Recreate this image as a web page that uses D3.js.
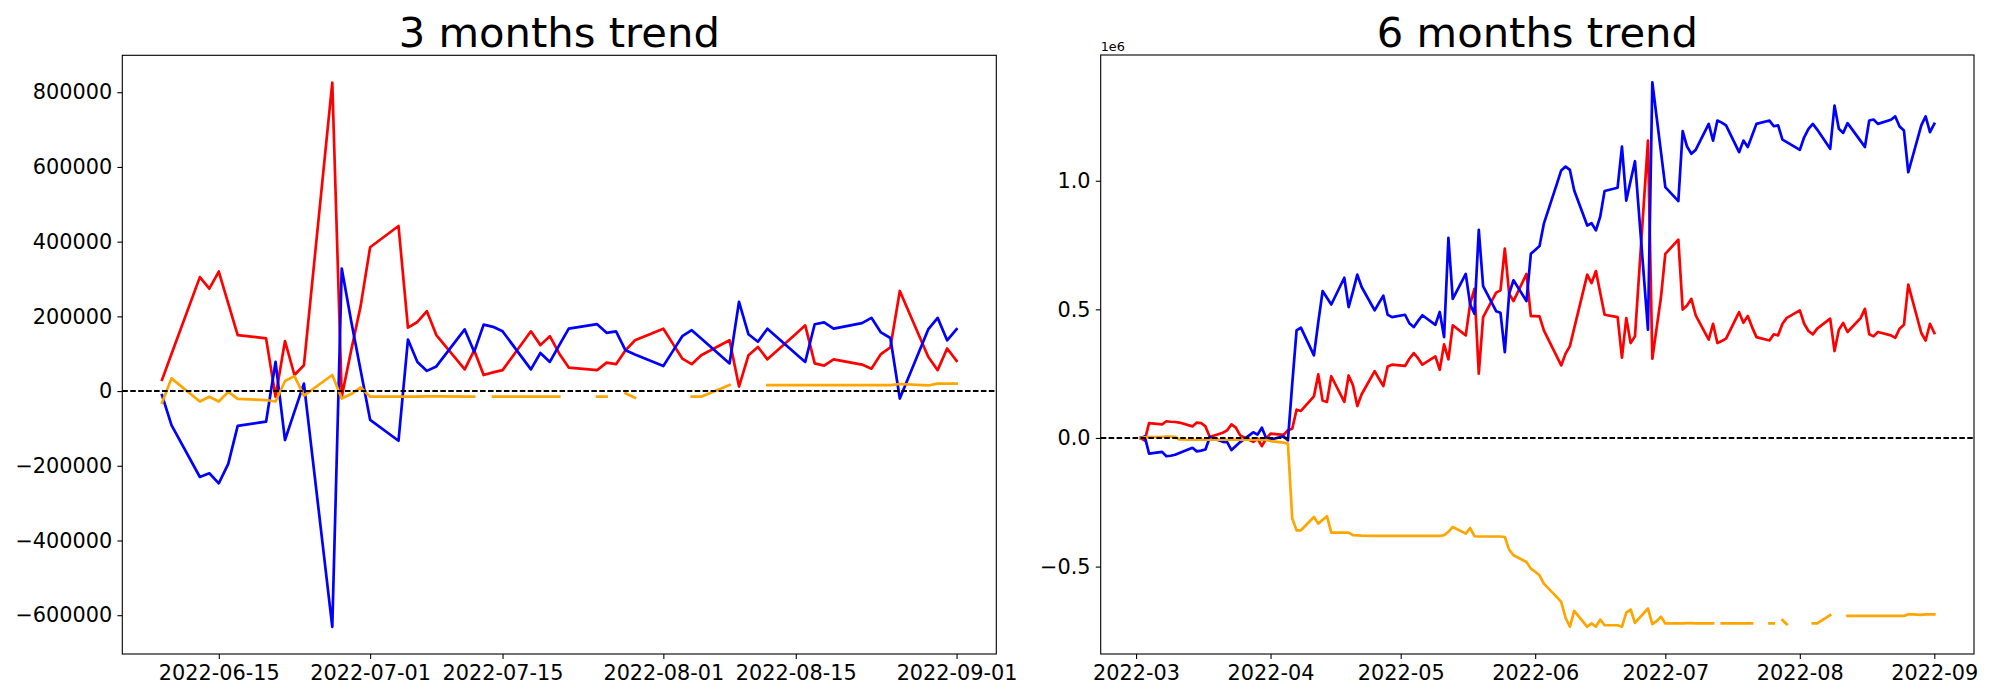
<!DOCTYPE html>
<html><head><meta charset="utf-8">
<script src="https://cdn.jsdelivr.net/npm/d3@7"></script>
<style>body{margin:0;background:#fff}svg{display:block}</style>
</head><body><svg id="c" width="2000" height="700"></svg>
<script>
// ---------- 3 months panel ----------
const dates3m = ["06-09","06-10","06-13","06-14","06-15","06-16","06-17","06-20","06-21","06-22","06-23","06-24","06-27","06-28","06-29","06-30",
"07-01","07-04","07-05","07-06","07-07","07-08","07-11","07-12","07-13","07-14","07-15","07-18","07-19","07-20","07-21","07-22","07-25","07-26","07-27","07-28","07-29",
"08-01","08-02","08-03","08-04","08-05","08-08","08-09","08-10","08-11","08-12","08-15","08-16","08-17","08-18","08-19","08-22","08-23","08-24","08-25","08-26","08-29","08-30","08-31",
"09-01"];
const red3m = [30000,99000,305000,274000,320000,235000,150000,141000,-15000,134000,43000,69000,826000,-15000,109000,228000,
385000,442000,170000,185000,214000,150000,58000,109000,43000,50000,56000,160000,123000,147000,100000,63000,56000,76000,72000,109000,136000,
167000,127000,87000,72000,96000,136000,12000,96000,118000,85000,153000,176000,74000,68000,85000,71000,60000,99000,117000,268000,92000,56000,114000,
81000];
const blue3m = [-11000,-91000,-230000,-220000,-247000,-195000,-93000,-82000,78000,-131000,-55000,20000,-631000,328000,187000,55000,
-77000,-133000,138000,78000,54000,66000,165000,105000,178000,172000,160000,58000,102000,78000,123000,167000,179000,156000,160000,109000,98000,
67000,107000,147000,163000,141000,74000,239000,152000,132000,167000,100000,78000,179000,184000,167000,182000,196000,157000,142000,-20000,165000,196000,136000,
166000];
const orange3m = [-31000,34000,-28000,-15000,-28000,-2000,-21000,-24000,-28000,27000,40000,-12000,43000,-20000,-8000,10000,
-15000,-15000,-15000,-15000,-14000,-14000,-15000,-15000,null,-15000,-15000,-15000,-15000,-15000,-15000,null,-15000,-15000,null,-6000,-18000,
null,null,null,-15000,-15000,16000,null,null,null,16000,16000,16000,16000,16000,16000,16000,16000,16000,16000,19000,15000,20000,20000,
20000];
const xTicks3m = ["2022-06-15","2022-07-01","2022-07-15","2022-08-01","2022-08-15","2022-09-01"];
const yTicks3m = [-600000,-400000,-200000,0,200000,400000,600000,800000];

// ---------- 6 months panel (values in units of 1e6) ----------
const dates6m = [
"03-02","03-03","03-04","03-07","03-08","03-09","03-10","03-11","03-14","03-15","03-16","03-17","03-18","03-21","03-22","03-23","03-24","03-25","03-28","03-29","03-30","03-31",
"04-01","04-04","04-05","04-06","04-07","04-08","04-11","04-12","04-13","04-14","04-15","04-18","04-19","04-20","04-21","04-22","04-25","04-26","04-27","04-28","04-29",
"05-02","05-03","05-04","05-05","05-06","05-09","05-10","05-11","05-12","05-13","05-16","05-17","05-18","05-19","05-20","05-23","05-24","05-25","05-26","05-27","05-30","05-31",
"06-01","06-02","06-03","06-06","06-07","06-08","06-09","06-10","06-13","06-14","06-15","06-16","06-17","06-20","06-21","06-22","06-23","06-24","06-27","06-28","06-29","06-30",
"07-01","07-04","07-05","07-06","07-07","07-08","07-11","07-12","07-13","07-14","07-15","07-18","07-19","07-20","07-21","07-22","07-25","07-26","07-27","07-28","07-29",
"08-01","08-02","08-03","08-04","08-05","08-08","08-09","08-10","08-11","08-12","08-15","08-16","08-17","08-18","08-19","08-22","08-23","08-24","08-25","08-26","08-29","08-30","08-31",
"09-01"];
const blue6m = [
0,0.006,-0.061,-0.054,-0.071,-0.069,-0.065,-0.058,-0.038,-0.052,-0.049,-0.045,0.004,-0.015,-0.016,-0.047,-0.031,-0.016,0.022,0.013,0.040,-0.001,
-0.006,0.006,-0.009,0.21,0.418,0.429,0.321,0.45,0.571,0.545,0.519,0.623,0.509,0.57,0.635,0.587,0.496,0.525,0.553,0.479,0.470,
0.479,0.446,0.431,0.455,0.477,0.440,0.490,0.392,0.778,0.541,0.638,0.52,0.483,0.809,0.590,0.493,0.487,0.334,0.561,0.613,0.532,0.716,
0.731,0.746,0.833,0.988,1.040,1.055,1.042,0.962,0.826,0.835,0.807,0.861,0.960,0.973,1.133,0.923,1.0,1.076,0.421,1.383,1.247,1.111,
0.975,0.921,1.193,1.133,1.105,1.120,1.221,1.156,1.234,1.226,1.215,1.111,1.156,1.131,1.176,1.221,1.234,1.212,1.215,1.160,1.150,
1.120,1.169,1.202,1.221,1.199,1.124,1.292,1.202,1.186,1.224,1.155,1.131,1.234,1.238,1.221,1.237,1.250,1.211,1.195,1.033,1.215,1.250,1.189,
1.221];
const red6m = [
0,-0.010,0.058,0.053,0.065,0.063,0.062,0.060,0.045,0.060,0.058,0.045,0.004,0.020,0.030,0.053,0.040,0.010,-0.015,-0.002,-0.032,-0.002,
0.017,0.012,0.030,0.036,0.110,0.105,0.162,0.247,0.146,0.140,0.240,0.140,0.243,0.205,0.124,0.170,0.260,0.230,0.202,0.278,0.285,
0.280,0.308,0.330,0.310,0.285,0.317,0.265,0.364,0.306,0.438,0.399,0.52,0.580,0.250,0.470,0.565,0.574,0.736,0.561,0.532,0.638,0.474,
0.474,0.473,0.418,0.316,0.282,0.328,0.357,0.427,0.635,0.602,0.649,0.564,0.479,0.470,0.312,0.466,0.369,0.395,1.156,0.308,0.428,0.548,
0.716,0.771,0.499,0.515,0.541,0.477,0.382,0.444,0.369,0.377,0.386,0.489,0.448,0.474,0.431,0.392,0.379,0.403,0.399,0.444,0.467,
0.496,0.444,0.416,0.403,0.425,0.464,0.338,0.421,0.447,0.412,0.466,0.502,0.403,0.395,0.412,0.399,0.389,0.425,0.440,0.596,0.408,0.379,0.444,
0.408];
const orange6m = [
0,0.002,0.003,0.004,0.005,0.005,0.004,-0.006,-0.007,-0.007,-0.007,-0.007,-0.007,-0.007,-0.007,-0.007,-0.007,-0.007,-0.007,-0.007,-0.007,-0.008,
-0.012,-0.018,-0.022,-0.313,-0.359,-0.359,-0.307,-0.333,-0.318,-0.304,-0.368,-0.368,-0.368,-0.378,-0.379,-0.380,-0.381,-0.381,-0.381,-0.381,-0.381,
-0.381,-0.381,-0.381,-0.381,-0.381,-0.381,-0.381,-0.378,-0.365,-0.346,-0.372,-0.350,-0.382,-0.383,-0.383,-0.383,-0.383,-0.385,-0.434,-0.456,-0.482,-0.508,
-0.520,-0.534,-0.566,-0.619,-0.637,-0.699,-0.734,-0.672,-0.734,-0.721,-0.734,-0.706,-0.728,-0.728,-0.734,-0.679,-0.667,-0.719,-0.663,-0.724,-0.712,-0.695,
-0.721,-0.721,-0.721,-0.720,-0.720,-0.721,-0.721,-0.721,null,-0.721,-0.721,-0.721,-0.721,-0.721,-0.721,null,-0.721,-0.721,null,-0.708,-0.724,
null,null,null,-0.721,-0.721,-0.689,null,null,null,-0.692,-0.692,-0.692,-0.692,-0.692,-0.692,-0.692,-0.692,-0.692,-0.692,-0.685,-0.688,-0.686,-0.686,
-0.686];
const xTicks6m = ["2022-03","2022-04","2022-05","2022-06","2022-07","2022-08","2022-09"];
const yTicks6m = [-0.5,0.0,0.5,1.0];

const titles = ["3 months trend","6 months trend"];
const colors = {red:"#ff0000", blue:"#0000ff", orange:"#ffa500"};

const svg = d3.select("#c");
const FONT = "DejaVu Sans, Liberation Sans, sans-serif";
const parseDay = s => new Date("2022-" + s + "T00:00:00Z");

function panel(o) {
  const g = svg.append("g");
  const xs = o.dates.map(parseDay);
  const [xmin, xmax] = d3.extent(xs);
  const xr = xmax - xmin;
  const x = d3.scaleUtc().domain([new Date(+xmin - 0.05*xr), new Date(+xmax + 0.05*xr)]).range([o.left, o.right]);
  const all = o.series.flatMap(s => s.values).filter(v => v != null);
  const [ymin, ymax] = d3.extent(all);
  const yr = ymax - ymin;
  const y = d3.scaleLinear().domain([ymin - 0.05*yr, ymax + 0.05*yr]).range([o.bottom, o.top]);

  o.series.forEach(s => {
    const line = d3.line()
      .defined(i => s.values[i] != null)
      .x(i => x(xs[i]))
      .y(i => y(s.values[i]));
    g.append("path")
      .attr("d", line(d3.range(xs.length)))
      .attr("fill", "none")
      .attr("stroke", s.color)
      .attr("stroke-width", 2.7)
      .attr("stroke-linejoin", "round")
      .attr("stroke-linecap", "square");
  });

  g.append("line")
    .attr("x1", o.left).attr("x2", o.right)
    .attr("y1", y(0)).attr("y2", y(0))
    .attr("stroke", "#000").attr("stroke-width", 2.08)
    .attr("stroke-dasharray", "5.55,2.4");

  const xa = g.append("g").attr("transform", `translate(0,${o.bottom})`)
    .call(d3.axisBottom(x).tickValues(o.xTicks.map(o.xParse)).tickFormat(o.xFmt).tickSize(4.9).tickPadding(6.3));
  const ya = g.append("g").attr("transform", `translate(${o.left},0)`)
    .call(d3.axisLeft(y).tickValues(o.yTicks).tickFormat(o.yFmt).tickSize(4.9).tickPadding(5.2));
  [xa, ya].forEach(a => {
    a.select(".domain").remove();
    a.attr("font-family", FONT).attr("font-size", 20.8);
    a.selectAll("line").attr("stroke", "#000").attr("stroke-width", 1.1);
    a.selectAll("text").attr("fill", "#000");
  });

  g.append("rect")
    .attr("x", o.left).attr("y", o.top)
    .attr("width", o.right - o.left).attr("height", o.bottom - o.top)
    .attr("fill", "none").attr("stroke", "#000").attr("stroke-width", 1.1);

  g.append("text")
    .attr("x", (o.left + o.right)/2).attr("y", 47)
    .attr("text-anchor", "middle")
    .attr("font-family", FONT).attr("font-size", 41.7)
    .attr("fill", "#000")
    .text(o.title);

  if (o.offset) {
    g.append("text")
      .attr("x", o.left).attr("y", 50.5)
      .attr("font-family", FONT).attr("font-size", 12.8)
      .attr("fill", "#000")
      .text(o.offset);
  }
}

panel({
  left: 122.3, right: 996.3, top: 55.3, bottom: 654,
  dates: dates3m,
  series: [
    {values: red3m, color: colors.red},
    {values: blue3m, color: colors.blue},
    {values: orange3m, color: colors.orange}
  ],
  xTicks: xTicks3m, xParse: s => new Date(s + "T00:00:00Z"), xFmt: d3.utcFormat("%Y-%m-%d"),
  yTicks: yTicks3m, yFmt: d3.format("d"),
  title: titles[0]
});

panel({
  left: 1100.7, right: 1974, top: 55, bottom: 654,
  dates: dates6m,
  series: [
    {values: red6m, color: colors.red},
    {values: blue6m, color: colors.blue},
    {values: orange6m, color: colors.orange}
  ],
  xTicks: xTicks6m, xParse: s => new Date(s + "-01T00:00:00Z"), xFmt: d3.utcFormat("%Y-%m"),
  yTicks: yTicks6m, yFmt: d3.format(".1f"),
  title: titles[1],
  offset: "1e6"
});
</script>
</body></html>
